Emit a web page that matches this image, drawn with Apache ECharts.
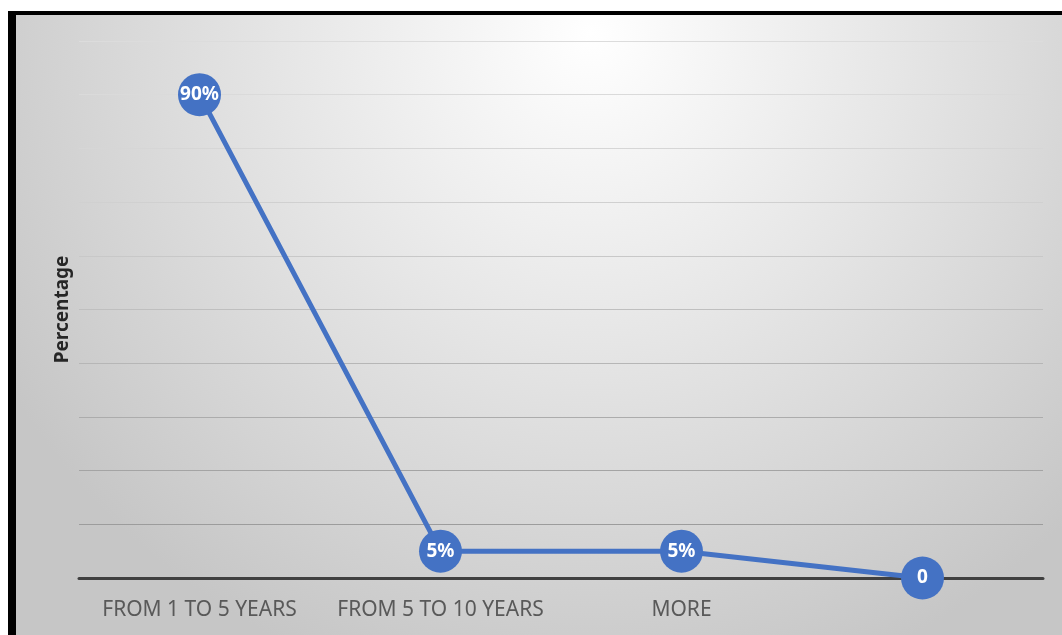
<!DOCTYPE html>
<html>
<head>
<meta charset="utf-8">
<script src="https://cdn.jsdelivr.net/npm/echarts@6/dist/echarts.min.js"></script>
<style>
  html, body { margin: 0; padding: 0; background: #ffffff; }
  #frame {
    position: absolute; left: 8px; top: 11px;
    border-left: 8px solid #000000; border-top: 4px solid #000000;
  }
  #main { width: 1046px; height: 620px; }
</style>
</head>
<body>
<div id="frame"><div id="main"></div></div>
<script>
const categories = ['FROM 1 TO 5 YEARS', 'FROM 5 TO 10 YEARS', 'MORE', '']
const percentages = [90, 5, 5, 0]
const pointLabels = ['90%', '5%', '5%', '0']

// grid lines get darker towards the bottom, as in the source picture
const gridColors = ['#404040', '#9c9c9c', '#a4a4a4', '#acacac', '#b6b6b6', '#bfbfbf',
  '#c8c8c8', '#d0d0d0', '#d6d6d6', '#dadada', '#dcdcdc']

const myChart = echarts.init(document.getElementById('main'))
myChart.setOption({
  animation: false,
  backgroundColor: {
    type: 'radial',
    x: 0.55,
    y: 0.03,
    r: 1.1,
    colorStops: [
      { offset: 0, color: '#ffffff' },
      { offset: 0.45, color: '#e6e6e6' },
      { offset: 1, color: '#c6c6c6' }
    ]
  },
  grid: { left: 63, right: 19, top: 26, bottom: 57 },
  xAxis: {
    type: 'category',
    data: categories,
    boundaryGap: true,
    axisLine: { lineStyle: { color: '#404040', width: 3 } },
    axisTick: { show: false },
    axisLabel: {
      interval: 0,
      hideOverlap: false,
      color: '#595959',
      fontFamily: 'Noto Sans',
      fontSize: 21,
      margin: 22
    }
  },
  yAxis: {
    type: 'value',
    min: 0,
    max: 100,
    interval: 10,
    name: 'Percentage',
    nameLocation: 'middle',
    nameRotate: 90,
    nameGap: 7,
    nameTextStyle: {
      color: '#262626',
      fontFamily: 'Noto Sans',
      fontWeight: 'bold',
      fontSize: 19
    },
    axisLine: { show: false },
    axisTick: { show: false },
    axisLabel: { show: false },
    splitLine: { lineStyle: { color: gridColors, width: 1 } }
  },
  series: [
    {
      type: 'line',
      data: percentages,
      symbol: 'circle',
      symbolSize: 43,
      itemStyle: { color: '#4472C4' },
      lineStyle: { color: '#4472C4', width: 5 },
      label: {
        show: true,
        position: 'inside',
        color: '#ffffff',
        fontFamily: 'Noto Sans',
        fontWeight: 'bold',
        fontSize: 19,
        formatter: p => pointLabels[p.dataIndex]
      }
    }
  ]
})
</script>
</body>
</html>
